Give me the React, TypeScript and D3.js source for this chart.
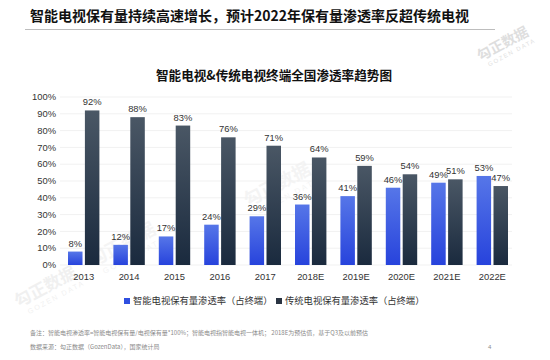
import React from "react";
import * as d3 from "d3";

const categories = ["2013", "2014", "2015", "2016", "2017", "2018E", "2019E", "2020E", "2021E", "2022E"];
const smartTV = [8, 12, 17, 24, 29, 36, 41, 46, 49, 53];
const traditionalTV = [92, 88, 83, 76, 71, 64, 59, 54, 51, 47];
const yTicks = [0, 10, 20, 30, 40, 50, 60, 70, 80, 90, 100];
const seriesNames = ["智能电视保有量渗透率（占终端）", "传统电视保有量渗透率（占终端）"];

const W = 550, H = 360;
const FONT = "'Liberation Sans', 'Noto Sans CJK SC', sans-serif";
const CJK = "'Noto Sans CJK SC', 'Liberation Sans', sans-serif";

export default function App() {
  const x = d3.scaleBand<string>().domain(categories).range([61, 515]);
  const y = d3.scaleLinear().domain([0, 100]).range([265, 97]);
  const bw = 14.5;
  const gap = 1.2;

  const watermarks = [
    { x: 505, y: 48, o: 0.32, s: 1 },
    { x: 280, y: 190, o: 0.1, s: 1.3 },
    { x: 125, y: 250, o: 0.1, s: 1.3 },
    { x: 48, y: 292, o: 0.14, s: 1.2 },
  ];

  return (
    <svg width={W} height={H} style={{ position: "absolute", left: 0, top: 0, background: "#fff" }}>
      <defs>
        <linearGradient id="gBlue" x1="0" y1="0" x2="0" y2="1">
          <stop offset="0" stopColor="#5676e8" />
          <stop offset="1" stopColor="#2743dc" />
        </linearGradient>
        <linearGradient id="gDark" x1="0" y1="0" x2="0" y2="1">
          <stop offset="0" stopColor="#4a5765" />
          <stop offset="1" stopColor="#1a2a3e" />
        </linearGradient>
      </defs>
      <rect width={W} height={H} fill="#fff" />

      {/* main title */}
      <text x={30} y={21} fontFamily={CJK} fontWeight={700} fontSize={14} fill="#111">
        智能电视保有量持续高速增长，预计2022年保有量渗透率反超传统电视
      </text>
      <line x1={25} x2={495} y1={29.5} y2={29.5} stroke="#bdbdbd" strokeWidth={1} />

      {/* watermarks */}
      {watermarks.map((w, i) => (
        <g key={i} transform={`translate(${w.x},${w.y}) rotate(-28) scale(${w.s})`} opacity={w.o}>
          <text x={0} y={0} textAnchor="middle" fontFamily={CJK} fontWeight={700} fontSize={14} fill="#9a9a9a">勾正数据</text>
          <text x={4} y={9} textAnchor="middle" fontFamily={FONT} fontSize={6} letterSpacing={1.5} fill="#9a9a9a">GOZEN DATA</text>
        </g>
      ))}

      {/* chart title */}
      <text x={274} y={80} textAnchor="middle" fontFamily={CJK} fontWeight={700} fontSize={12.6} fill="#111">
        智能电视&amp;传统电视终端全国渗透率趋势图
      </text>

      {/* gridlines */}
      {yTicks.map((t) => (
        <line key={t} x1={60} x2={512} y1={y(t)} y2={y(t)} stroke="#f1f1f1" strokeWidth={1} />
      ))}

      {/* y tick labels */}
      {yTicks.map((t) => (
        <text key={t} x={56} y={y(t)} dy="0.35em" textAnchor="end" fontFamily={FONT} fontSize={9.4} fill="#333">
          {t}%
        </text>
      ))}

      {/* bars */}
      {categories.map((c, i) => {
        const cx = (x(c) as number) + x.bandwidth() / 2;
        const xb = cx - gap - bw;
        const xd = cx + gap;
        return (
          <g key={c}>
            <rect x={xb} y={y(smartTV[i])} width={bw} height={y(0) - y(smartTV[i])} fill="url(#gBlue)" />
            <rect x={xd} y={y(traditionalTV[i])} width={bw} height={y(0) - y(traditionalTV[i])} fill="url(#gDark)" />
            <text x={xb + bw / 2} y={y(smartTV[i]) - 5} textAnchor="middle" fontFamily={FONT} fontSize={9.4} fill="#333">
              {smartTV[i]}%
            </text>
            <text x={xd + bw / 2} y={y(traditionalTV[i]) - 5} textAnchor="middle" fontFamily={FONT} fontSize={9.4} fill="#333">
              {traditionalTV[i]}%
            </text>
            <text x={cx} y={280} textAnchor="middle" fontFamily={FONT} fontSize={9.4} fill="#333">
              {c}
            </text>
          </g>
        );
      })}

      {/* legend */}
      <rect x={124} y={298} width={6} height={6} fill="#2f4fe0" />
      <text x={133} y={301} dy="0.35em" fontFamily={CJK} fontSize={9.3} fill="#333">{seriesNames[0]}</text>
      <rect x={276} y={298} width={6} height={6} fill="#2a3442" />
      <text x={285} y={301} dy="0.35em" fontFamily={CJK} fontSize={9.3} fill="#333">{seriesNames[1]}</text>

      {/* footnotes */}
      <text x={30} y={333} dy="0.35em" fontFamily={CJK} fontSize={6} fill="#8a8a8a">
        备注：智能电视渗透率=智能电视保有量/电视保有量*100%；智能电视指智能电视一体机；  2018E为预估值，基于Q3及以前预估
      </text>
      <text x={30} y={347} dy="0.35em" fontFamily={CJK} fontSize={6} fill="#8a8a8a">
        数据来源：勾正数据（GozenData），国家统计局
      </text>
      <text x={488} y={347} dy="0.35em" fontFamily={FONT} fontSize={6} fill="#8a8a8a">4</text>
    </svg>
  );
}
